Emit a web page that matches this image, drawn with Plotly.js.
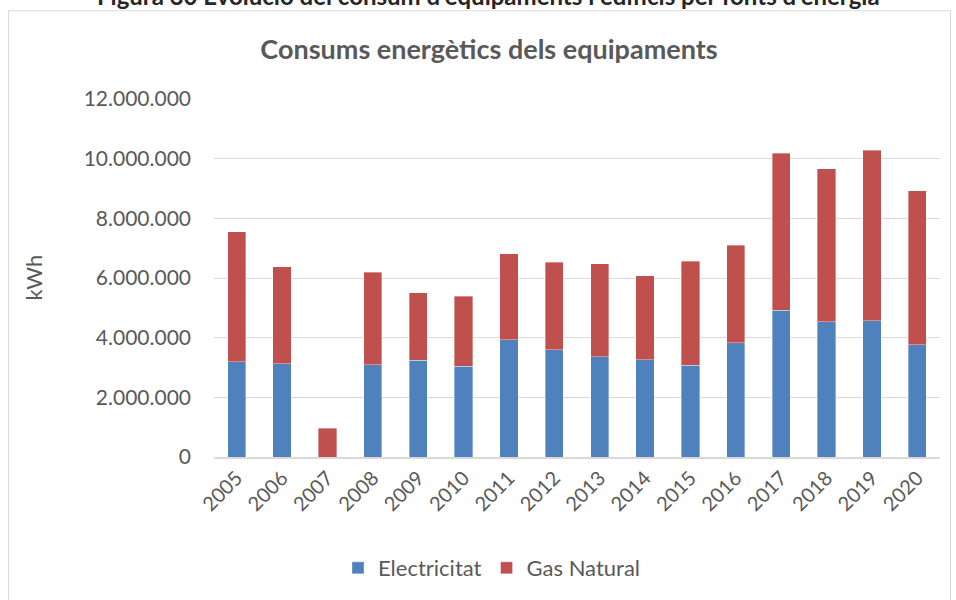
<!DOCTYPE html>
<html>
<head>
<meta charset="utf-8">
<script src="https://cdn.plot.ly/plotly-3.0.1.min.js"></script>
<style>
html,body{margin:0;padding:0;background:#fff;}
#chart{width:956px;height:600px;}
</style>
</head>
<body>
<div id="chart"></div>
<script>
const years = ["2005","2006","2007","2008","2009","2010","2011","2012","2013","2014","2015","2016","2017","2018","2019","2020"];
const electricitat = [3190000,3130000,0,3090000,3240000,3040000,3930000,3600000,3360000,3260000,3070000,3830000,4920000,4530000,4570000,3770000];
const gasNatural = [4360000,3240000,970000,3100000,2260000,2350000,2890000,2920000,3120000,2810000,3500000,3270000,5270000,5130000,5710000,5150000];
const seriesNames = ["Electricitat","Gas Natural"];
const yTicks = [0,2000000,4000000,6000000,8000000,10000000,12000000];
const yTickText = ["0","2.000.000","4.000.000","6.000.000","8.000.000","10.000.000","12.000.000"];
const chartTitle = "Consums energètics dels equipaments";
const figCaption = "Figura 30 Evolució del consum d'equipaments i edificis per fonts d'energia";
const yLabel = "kWh";

const W = 956, H = 600;
const mL = 214, mR = 16, mT = 99, mB = 142;
const pw = W - mL - mR, ph = H - mT - mB;
const px = x => (x - mL) / pw;
const py = y => (H - mB - y) / ph;

const txt = "#595959";
const fontFam = "Lato, 'Open Sans', sans-serif";

const traces = [
  {type:"bar", name:seriesNames[0], x:years, y:electricitat,
   marker:{color:"#4F81BD", line:{color:"rgba(255,255,255,0.6)", width:0.6}}},
  {type:"bar", name:seriesNames[1], x:years, y:gasNatural,
   marker:{color:"#C0504D", line:{color:"rgba(255,255,255,0.6)", width:0.6}}}
];

const layout = {
  width: W, height: H,
  margin:{l:mL, r:mR, t:mT, b:mB, pad:0},
  paper_bgcolor:"#fff", plot_bgcolor:"#fff",
  font:{family:fontFam, color:txt, size:20},
  barmode:"stack",
  bargap:0.596,
  showlegend:true,
  title:{text:"<b>"+chartTitle+"</b>", font:{family:fontFam, size:27, color:txt},
         x:489/W, xref:"container", xanchor:"center", y:1-50/H, yref:"container", yanchor:"middle"},
  xaxis:{type:"category", tickangle:-45, tickfont:{size:20, color:txt},
         showgrid:false, showline:true, linecolor:"#d9d9d9", linewidth:1.5,
         ticks:"", automargin:false, fixedrange:true},
  yaxis:{range:[0,12000000], tickvals:yTicks, ticktext:yTickText,
         tickfont:{size:21, color:txt}, showgrid:true, gridcolor:"#d9d9d9", gridwidth:1,
         zeroline:false, showline:false, ticks:"", ticklabelstandoff:22, automargin:false, fixedrange:true},
  legend:{orientation:"h", x:px(492), xanchor:"center", y:py(568), yanchor:"middle",
          font:{size:22, color:txt}, itemwidth:30, traceorder:"normal", bgcolor:"rgba(0,0,0,0)"},
  shapes:[
    {type:"rect", xref:"paper", yref:"paper", x0:px(8.5), x1:px(950.5), y0:py(640), y1:py(10.5),
     line:{color:"#d9d9d9", width:1}, fillcolor:"rgba(0,0,0,0)", layer:"below"}
  ],
  annotations:[
    {text:yLabel, xref:"paper", yref:"paper", x:px(34), y:py(278), textangle:-90,
     showarrow:false, xanchor:"center", yanchor:"middle", font:{size:22, color:txt, family:fontFam}},
    {text:"<b>"+figCaption+"</b>", xref:"paper", yref:"paper", x:px(488), y:py(12), 
     showarrow:false, xanchor:"center", yanchor:"bottom", font:{size:24, color:"#262626", family:fontFam}}
  ]
};

Plotly.newPlot("chart", traces, layout, {displayModeBar:false, staticPlot:true});
</script>
</body>
</html>
